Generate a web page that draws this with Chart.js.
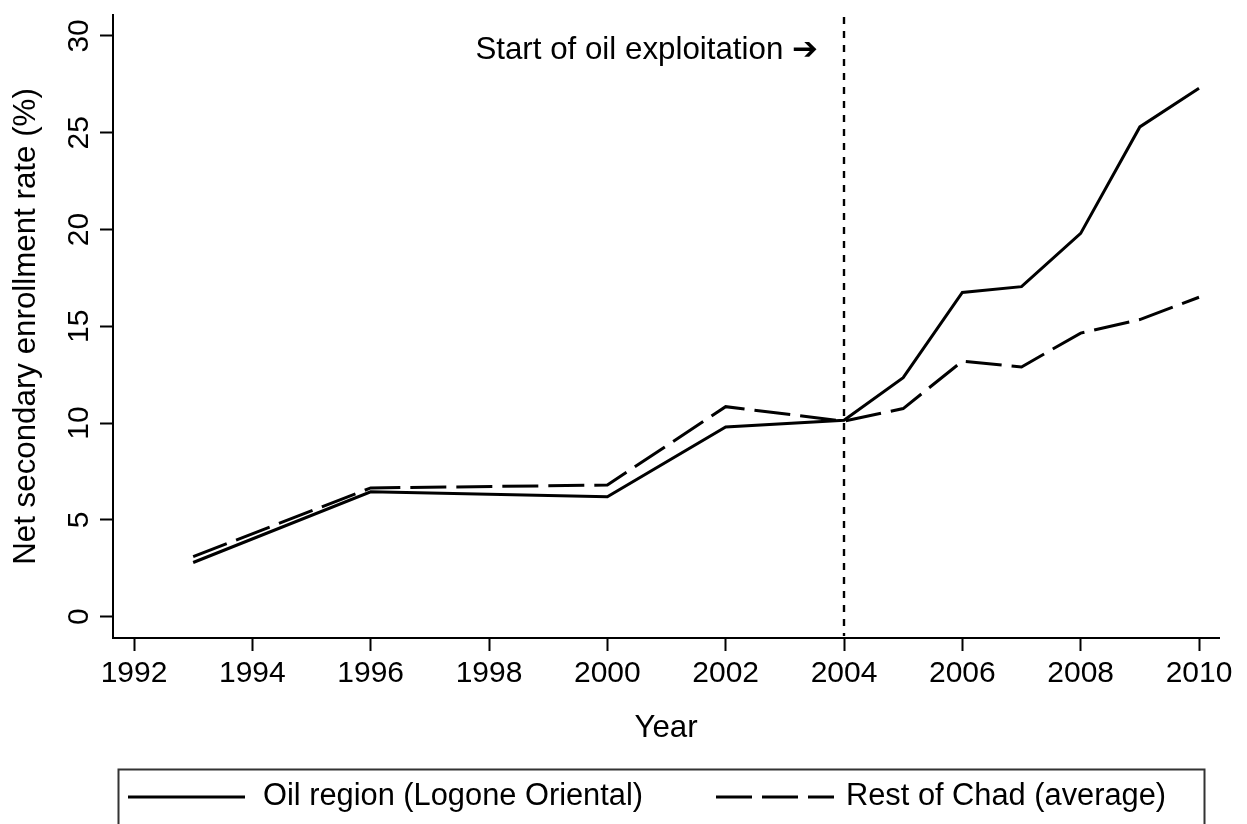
<!DOCTYPE html>
<html><head><meta charset="utf-8">
<script src="https://cdn.jsdelivr.net/npm/chart.js@4.4.1/dist/chart.umd.min.js"></script>
<style>html,body{margin:0;padding:0;background:#fff;} #wrap{width:1247px;height:824px;position:relative;overflow:hidden;}</style>
</head><body><div id="wrap"><canvas id="c" width="1247" height="824"></canvas></div>
<script>
// ---- data ----
const years = [1993, 1996, 2000, 2002, 2004, 2005, 2006, 2007, 2008, 2009, 2010];
const oilRegion = [2.8, 6.45, 6.2, 9.8, 10.15, 12.35, 16.75, 17.05, 19.8, 25.3, 27.3];
const restOfChad = [3.1, 6.65, 6.8, 10.85, 10.1, 10.75, 13.2, 12.9, 14.65, 15.35, 16.5];
const xTicks = [1992, 1994, 1996, 1998, 2000, 2002, 2004, 2006, 2008, 2010];
const yTicks = [0, 5, 10, 15, 20, 25, 30];
const seriesNames = ['Oil region (Logone Oriental)', 'Rest of Chad (average)'];
const oilStartYear = 2004;
const annotationText = 'Start of oil exploitation \u2794';
const annotationY = 29.25;
const xTitle = 'Year';
const yTitle = 'Net secondary enrollment rate (%)';

const FONT = "'Liberation Sans', Arial, Helvetica, sans-serif";
const FS = 30;      // tick labels
const FS_T = 31.3;  // titles, annotation
const FS_L = 30.8;  // legend
Chart.defaults.font.family = FONT;
Chart.defaults.color = '#000';

function zeroPad(s){ s.paddingLeft = 0; s.paddingRight = 0; s.paddingTop = 0; s.paddingBottom = 0; }

const extras = {
  id: 'extras',
  afterDraw(chart) {
    const ctx = chart.ctx, xs = chart.scales.x, ys = chart.scales.y, ca = chart.chartArea;
    ctx.save();
    ctx.fillStyle = '#000';
    // rotated y tick labels
    ctx.font = FS + 'px ' + FONT;
    ys.ticks.forEach(t => {
      const py = ys.getPixelForValue(t.value);
      ctx.save();
      ctx.translate(88, py);
      ctx.rotate(-Math.PI / 2);
      ctx.textAlign = 'center';
      ctx.textBaseline = 'alphabetic';
      ctx.fillText(String(t.value), 0, 0);
      ctx.restore();
    });
    // vertical dashed line at start of oil exploitation
    const vx = Math.round(xs.getPixelForValue(oilStartYear));
    ctx.strokeStyle = '#000';
    ctx.lineWidth = 2.4;
    ctx.setLineDash([7, 7]);
    ctx.beginPath();
    ctx.moveTo(vx, ca.top + 2);
    ctx.lineTo(vx, ca.bottom - 2);
    ctx.stroke();
    ctx.setLineDash([]);
    // annotation
    ctx.font = FS_T + 'px ' + FONT;
    ctx.textAlign = 'right';
    ctx.textBaseline = 'middle';
    ctx.fillText(annotationText, vx - 26, ys.getPixelForValue(annotationY));
    // legend
    ctx.font = FS_L + 'px ' + FONT;
    ctx.lineWidth = 2;
    ctx.strokeStyle = '#333';
    ctx.strokeRect(118.5, 769.5, 1086, 80);
    const ly = 797;
    const items = [
      {x0: 128, x1: 245, tx: 263, ds: chart.data.datasets[0]},
      {x0: 716, x1: 834, tx: 846, ds: chart.data.datasets[1]}
    ];
    items.forEach(it => {
      ctx.strokeStyle = it.ds.borderColor;
      ctx.lineWidth = it.ds.borderWidth;
      ctx.setLineDash(it.ds.borderDash || []);
      ctx.beginPath();
      ctx.moveTo(it.x0, ly);
      ctx.lineTo(it.x1, ly);
      ctx.stroke();
      ctx.setLineDash([]);
      ctx.textAlign = 'left';
      ctx.textBaseline = 'middle';
      ctx.fillText(it.ds.label, it.tx, ly);
    });
    ctx.restore();
  }
};

new Chart(document.getElementById('c'), {
  type: 'line',
  data: {
    datasets: [
      { label: seriesNames[0], data: years.map((x, i) => ({x, y: oilRegion[i]})),
        borderColor: '#000', borderWidth: 3, pointRadius: 0, tension: 0, fill: false, borderDash: [] },
      { label: seriesNames[1], data: years.map((x, i) => ({x, y: restOfChad[i]})),
        borderColor: '#000', borderWidth: 3, pointRadius: 0, tension: 0, fill: false, borderDash: [36, 10] }
    ]
  },
  options: {
    responsive: false,
    animation: false,
    devicePixelRatio: 1,
    layout: { padding: { left: 0, top: 15, right: 28, bottom: 74 } },
    plugins: { legend: { display: false }, tooltip: { enabled: false } },
    scales: {
      x: {
        type: 'linear', position: 'bottom', min: 1991.645, max: 2010.338,
        afterBuildTicks: s => { s.ticks = xTicks.map(v => ({value: v})); },
        afterFit: s => { s.height = 112; zeroPad(s); },
        ticks: { font: {size: FS}, color: '#000', padding: 5, maxRotation: 0, minRotation: 0, autoSkip: false, callback: v => String(v) },
        grid: { drawOnChartArea: false, drawTicks: true, tickLength: 13, tickWidth: 2, color: '#000' },
        border: { display: true, color: '#000', width: 2 },
        title: { display: true, text: xTitle, font: {size: FS_T}, color: '#000', padding: {top: 0, bottom: 3} }
      },
      y: {
        type: 'linear', position: 'left', min: -1.1, max: 31.08,
        afterBuildTicks: s => { s.ticks = yTicks.map(v => ({value: v})); },
        afterFit: s => { s.width = 113; zeroPad(s); },
        ticks: { display: false },
        grid: { drawOnChartArea: false, drawTicks: true, tickLength: 13, tickWidth: 2, color: '#000' },
        border: { display: true, color: '#000', width: 2 },
        title: { display: true, text: yTitle, font: {size: FS_T}, color: '#000', padding: {top: 8, bottom: 0} }
      }
    }
  },
  plugins: [extras]
});
</script></body></html>
